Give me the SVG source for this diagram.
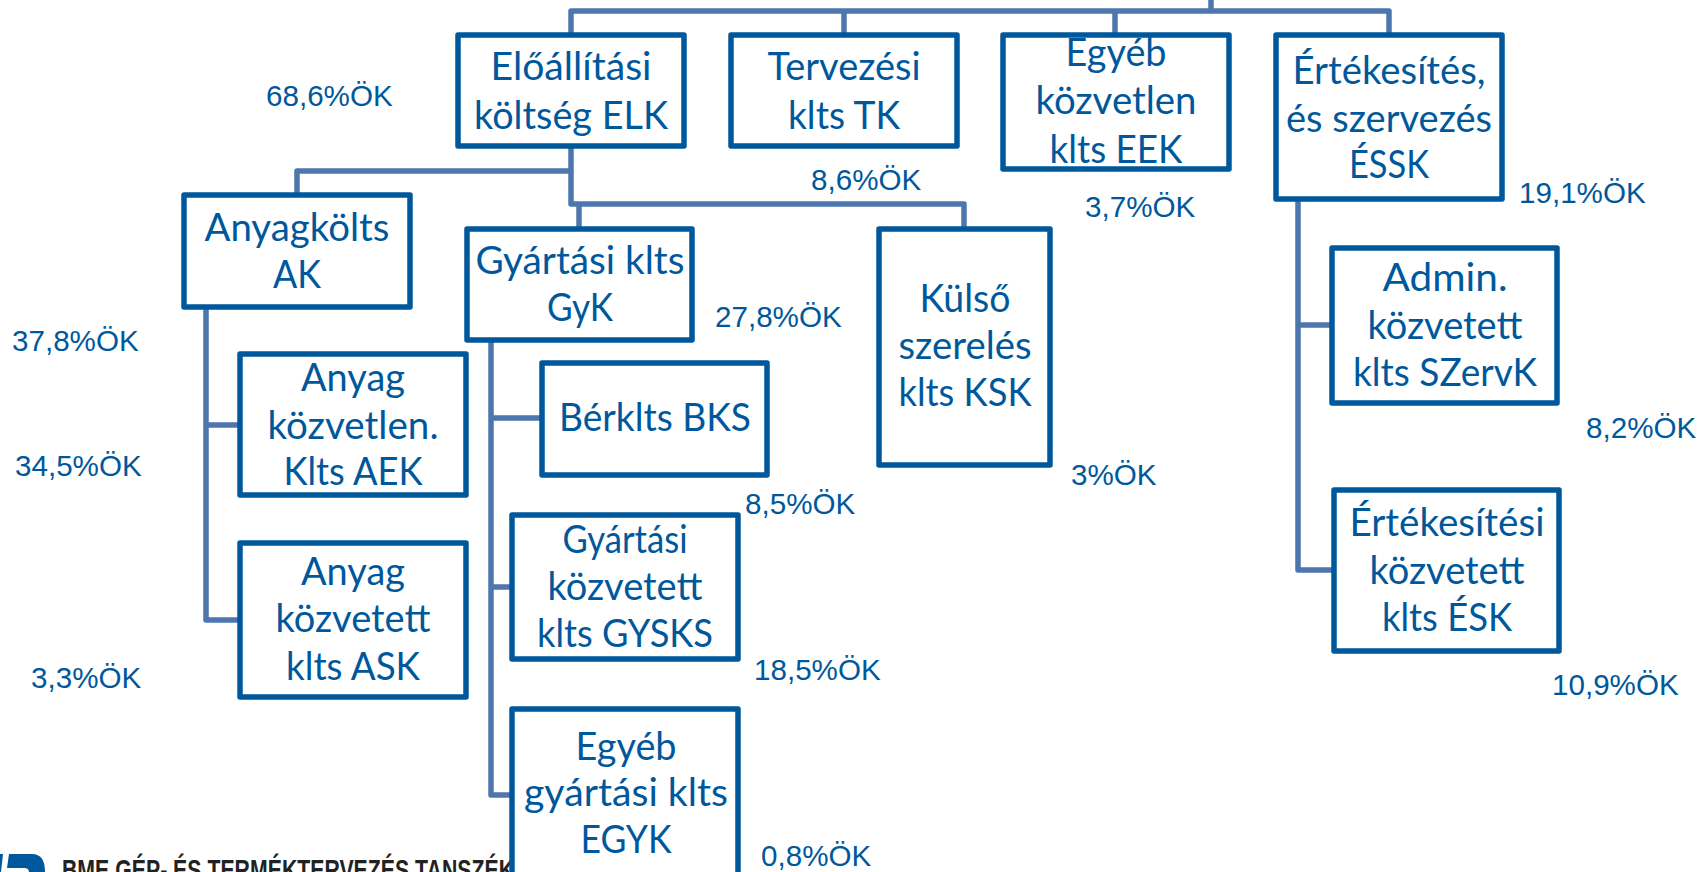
<svg xmlns="http://www.w3.org/2000/svg" width="1699" height="872" viewBox="0 0 1699 872">
<style>
.b{fill:#fff;stroke:#00589c;stroke-width:5.5;stroke-linejoin:round}
.t{font-family:Lato,"Liberation Sans",sans-serif;font-size:39px;fill:#00589c;text-anchor:middle}
.p{font-family:"Liberation Sans",Arial,sans-serif;font-size:29.6px;fill:#00589c}
.c{fill:none;stroke:#4c76ad;stroke-width:5.5;stroke-linejoin:round}
.l{font-family:"Liberation Sans",sans-serif;font-weight:bold;font-size:30px;fill:#222}
</style>
<g id="connectors">
<path class="c" d="M571 35V11H1389V35M844 11V35M1115 11V35M1211 0V11"/>
<path class="c" d="M571 146V204H964V229M579 204V229M571 171H297V195"/>
<path class="c" d="M206 307V620H240M206 425H240"/>
<path class="c" d="M491 340V795H512M491 418H542M491 587H512"/>
<path class="c" d="M1298 199V570H1334M1298 325H1332"/>
</g>
<g id="logo">
<path d="M9 854H32Q45 854 45 872H29Q29 868 24 868H7Z" fill="#00589c"/>
<path d="M0 854H3L1 872H0Z" fill="#00589c"/>
<text class="l" x="62" y="880" textLength="452" lengthAdjust="spacingAndGlyphs">BME GÉP- ÉS TERMÉKTERVEZÉS TANSZÉK</text>
</g>
<g id="elk"><rect class="b" x="458" y="35" width="226" height="111"/><text class="t" x="571" y="80" textLength="161" lengthAdjust="spacingAndGlyphs">Előállítási</text><text class="t" x="571" y="129" textLength="194" lengthAdjust="spacingAndGlyphs">költség ELK</text></g>
<g id="tk"><rect class="b" x="731" y="35" width="226" height="111"/><text class="t" x="844" y="80" textLength="153" lengthAdjust="spacingAndGlyphs">Tervezési</text><text class="t" x="844" y="129" textLength="112" lengthAdjust="spacingAndGlyphs">klts TK</text></g>
<g id="eek"><rect class="b" x="1003" y="35" width="226" height="134"/><text class="t" x="1116" y="66" textLength="101" lengthAdjust="spacingAndGlyphs">Egyéb</text><text class="t" x="1116" y="114" textLength="161" lengthAdjust="spacingAndGlyphs">közvetlen</text><text class="t" x="1116" y="163" textLength="133" lengthAdjust="spacingAndGlyphs">klts EEK</text></g>
<g id="essk"><rect class="b" x="1276" y="35" width="226" height="164"/><text class="t" x="1389" y="84" textLength="193" lengthAdjust="spacingAndGlyphs">Értékesítés,</text><text class="t" x="1389" y="132" textLength="206" lengthAdjust="spacingAndGlyphs">és szervezés</text><text class="t" x="1389" y="178" textLength="80" lengthAdjust="spacingAndGlyphs">ÉSSK</text></g>
<g id="ak"><rect class="b" x="184" y="195" width="226" height="112"/><text class="t" x="297" y="241" textLength="185" lengthAdjust="spacingAndGlyphs">Anyagkölts</text><text class="t" x="297" y="288" textLength="48" lengthAdjust="spacingAndGlyphs">AK</text></g>
<g id="gyk"><rect class="b" x="467" y="229" width="225" height="111"/><text class="t" x="580" y="274" textLength="209" lengthAdjust="spacingAndGlyphs">Gyártási klts</text><text class="t" x="580" y="321" textLength="66" lengthAdjust="spacingAndGlyphs">GyK</text></g>
<g id="ksk"><rect class="b" x="879" y="229" width="171" height="236"/><text class="t" x="965" y="312" textLength="91" lengthAdjust="spacingAndGlyphs">Külső</text><text class="t" x="965" y="359" textLength="133" lengthAdjust="spacingAndGlyphs">szerelés</text><text class="t" x="965" y="406" textLength="133" lengthAdjust="spacingAndGlyphs">klts KSK</text></g>
<g id="aek"><rect class="b" x="240" y="354" width="226" height="141"/><text class="t" x="353" y="391" textLength="104" lengthAdjust="spacingAndGlyphs">Anyag</text><text class="t" x="353" y="439" textLength="171" lengthAdjust="spacingAndGlyphs">közvetlen.</text><text class="t" x="353" y="485" textLength="139" lengthAdjust="spacingAndGlyphs">Klts AEK</text></g>
<g id="ask"><rect class="b" x="240" y="543" width="226" height="154"/><text class="t" x="353" y="585" textLength="104" lengthAdjust="spacingAndGlyphs">Anyag</text><text class="t" x="353" y="632" textLength="155" lengthAdjust="spacingAndGlyphs">közvetett</text><text class="t" x="353" y="680" textLength="134" lengthAdjust="spacingAndGlyphs">klts ASK</text></g>
<g id="bks"><rect class="b" x="542" y="363" width="225" height="112"/><text class="t" x="655" y="431" textLength="192" lengthAdjust="spacingAndGlyphs">Bérklts BKS</text></g>
<g id="gysks"><rect class="b" x="512" y="515" width="226" height="144"/><text class="t" x="625" y="553" textLength="125" lengthAdjust="spacingAndGlyphs">Gyártási</text><text class="t" x="625" y="600" textLength="155" lengthAdjust="spacingAndGlyphs">közvetett</text><text class="t" x="625" y="647" textLength="176" lengthAdjust="spacingAndGlyphs">klts GYSKS</text></g>
<g id="egyk"><rect class="b" x="512" y="709" width="226" height="174"/><text class="t" x="626" y="760" textLength="101" lengthAdjust="spacingAndGlyphs">Egyéb</text><text class="t" x="626" y="806" textLength="204" lengthAdjust="spacingAndGlyphs">gyártási klts</text><text class="t" x="626" y="853" textLength="91" lengthAdjust="spacingAndGlyphs">EGYK</text></g>
<g id="szervk"><rect class="b" x="1332" y="248" width="225" height="155"/><text class="t" x="1445" y="291" textLength="125" lengthAdjust="spacingAndGlyphs">Admin.</text><text class="t" x="1445" y="339" textLength="155" lengthAdjust="spacingAndGlyphs">közvetett</text><text class="t" x="1445" y="386" textLength="184" lengthAdjust="spacingAndGlyphs">klts SZervK</text></g>
<g id="esk"><rect class="b" x="1334" y="490" width="225" height="161"/><text class="t" x="1447" y="536" textLength="195" lengthAdjust="spacingAndGlyphs">Értékesítési</text><text class="t" x="1447" y="584" textLength="155" lengthAdjust="spacingAndGlyphs">közvetett</text><text class="t" x="1447" y="631" textLength="130" lengthAdjust="spacingAndGlyphs">klts ÉSK</text></g>
<g id="percent">
<text class="p" x="266" y="106">68,6%ÖK</text>
<text class="p" x="811" y="190">8,6%ÖK</text>
<text class="p" x="1085" y="217">3,7%ÖK</text>
<text class="p" x="1519" y="203">19,1%ÖK</text>
<text class="p" x="715" y="327">27,8%ÖK</text>
<text class="p" x="12" y="351">37,8%ÖK</text>
<text class="p" x="15" y="476">34,5%ÖK</text>
<text class="p" x="31" y="688">3,3%ÖK</text>
<text class="p" x="745" y="514">8,5%ÖK</text>
<text class="p" x="1071" y="485">3%ÖK</text>
<text class="p" x="1586" y="438">8,2%ÖK</text>
<text class="p" x="754" y="680">18,5%ÖK</text>
<text class="p" x="1552" y="695">10,9%ÖK</text>
<text class="p" x="761" y="866">0,8%ÖK</text>
</g>
</svg>
